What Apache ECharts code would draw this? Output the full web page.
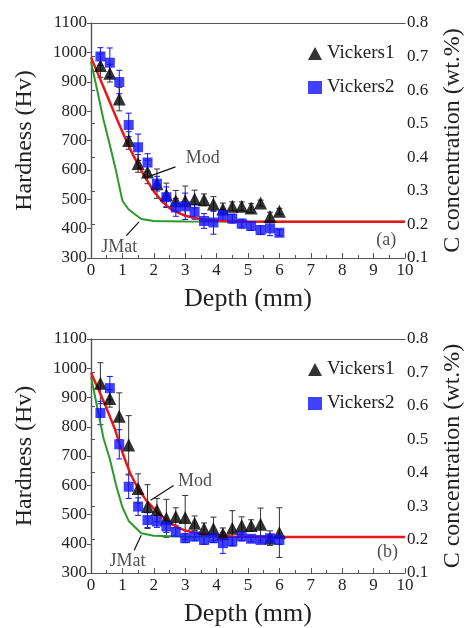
<!DOCTYPE html>
<html>
<head>
<meta charset="utf-8">
<script src="https://cdn.jsdelivr.net/npm/echarts@6/dist/echarts.min.js"></script>
<style>
  html, body { margin: 0; padding: 0; background: #fff; }
  #chart { width: 473px; height: 628px; }
</style>
</head>
<body>
<div id="chart"></div>
<script>
// measurement depths (mm)
var depth = [0.3, 0.6, 0.9, 1.2, 1.5, 1.8, 2.1, 2.4, 2.7, 3.0, 3.3, 3.6, 3.9, 4.2, 4.5, 4.8, 5.1, 5.4, 5.7, 6.0]

// panel (a)
var hvA1 = [955, 929, 841, 700, 622, 593, 553, 515, 495, 495, 501, 498, 484, 467, 476, 476, 470, 487, 441, 459]
var errA1 = [40, 30, 40, 30, 30, 40, 50, 40, 35, 50, 30, 20, 25, 20, 15, 15, 15, 10, 15, 10]
var hvA2 = [986, 965, 899, 753, 677, 625, 553, 507, 472, 476, 457, 426, 421, 446, 434, 417, 409, 395, 401, 386]
var errA2 = [30, 50, 40, 40, 45, 30, 25, 35, 30, 45, 25, 25, 40, 20, 15, 15, 15, 15, 25, 10]

// panel (b)
var hvB1 = [949, 897, 836, 738, 589, 527, 515, 487, 493, 490, 470, 451, 451, 434, 453, 462, 462, 467, 419, 438]
var errB1 = [70, 30, 80, 100, 50, 75, 40, 65, 30, 75, 25, 20, 40, 20, 60, 30, 20, 55, 25, 85]
var hvB2 = [847, 932, 740, 595, 527, 481, 476, 459, 440, 419, 425, 413, 419, 402, 408, 425, 417, 413, 419, 413]
var errB2 = [40, 40, 50, 40, 30, 25, 20, 20, 15, 15, 15, 15, 15, 35, 15, 15, 10, 10, 10, 15]

// model curves
var modDepth = [0, 0.25, 0.5, 0.75, 1.0, 1.25, 1.5, 1.75, 2.0, 2.25, 2.5, 2.75, 3.0, 3.5, 4.0, 4.5, 5.0, 6.0, 7.0, 8.0, 9.0, 10.0]
var modA = [983, 920, 856, 792, 730, 670, 618, 570, 527, 494, 470, 455, 444, 432, 427, 425, 424, 423, 423, 423, 423, 423]
var modB = [985, 925, 862, 795, 712, 640, 588, 550, 520, 495, 472, 457, 445, 433, 428, 425, 424, 423, 423, 423, 423, 423]
var jmatDepth = [0, 0.2, 0.4, 0.6, 0.8, 1.0, 1.2, 1.6, 2.0, 3.0, 10.0]
var jmatA = [968, 870, 770, 685, 595, 495, 465, 433, 426, 424, 423]
var jmatB = [972, 865, 760, 690, 600, 525, 478, 436, 427, 424, 423]

// annotation anchors in data space: [depth, Hv]
var modLabel = [[3.56, 640], [3.31, 612]]
var modArrow = [[[2.69, 610], [1.81, 576]], [[2.63, 599], [1.9, 549]]]
var jmatLabel = [[0.9, 338], [1.16, 341]]
var jmatArrow = [[[1.125, 376], [1.53, 423]], [[1.375, 378], [1.6, 429]]]
var panelTag = ['(a)', '(b)']
var tagPos = [[9.4, 362], [9.44, 372]]

var FONT = "'Times New Roman', 'Liberation Serif', 'DejaVu Serif', serif"
var AXIS = '#555'
var BLUE = '#1010ff'
var RED = '#e81818'
var GREEN = '#2a9a2a'

function zip (xs, ys) {
  return xs.map(function (x, i) { return [x, ys[i]] })
}

function errBar (name, xs, ys, es, color, xi, yi) {
  return {
    name: name,
    type: 'custom',
    xAxisIndex: xi,
    yAxisIndex: yi,
    z: 2,
    silent: true,
    renderItem: function (params, api) {
      var top = api.coord([api.value(0), api.value(2)])
      var bot = api.coord([api.value(0), api.value(1)])
      var w = 3
      var st = { stroke: color, lineWidth: 1 }
      return {
        type: 'group',
        children: [
          { type: 'line', shape: { x1: top[0], y1: top[1], x2: bot[0], y2: bot[1] }, style: st },
          { type: 'line', shape: { x1: top[0] - w, y1: top[1], x2: top[0] + w, y2: top[1] }, style: st },
          { type: 'line', shape: { x1: bot[0] - w, y1: bot[1], x2: bot[0] + w, y2: bot[1] }, style: st }
        ]
      }
    },
    encode: { x: 0, y: [1, 2] },
    data: xs.map(function (x, i) { return [x, ys[i] - es[i], ys[i] + es[i]] })
  }
}

function panelSeries (p, hv1, err1, hv2, err2, mod, jmat) {
  var xi = p * 2
  var yi = p * 2
  return [
    errBar('e1', depth, hv1, err1, '#333', xi, yi),
    errBar('e2', depth, hv2, err2, BLUE, xi, yi),
    {
      name: 'JMat', type: 'line', xAxisIndex: xi, yAxisIndex: yi, z: 3,
      showSymbol: false, lineStyle: { color: GREEN, width: 2 },
      data: zip(jmatDepth, jmat)
    },
    {
      name: 'Mod', type: 'line', xAxisIndex: xi, yAxisIndex: yi, z: 4,
      showSymbol: false, lineStyle: { color: RED, width: 2.5 },
      data: zip(modDepth, mod)
    },
    {
      name: 'Vickers1', type: 'scatter', xAxisIndex: xi, yAxisIndex: yi, z: 5,
      symbol: 'triangle', symbolSize: 13, itemStyle: { color: '#000' },
      data: zip(depth, hv1)
    },
    {
      name: 'Vickers2', type: 'scatter', xAxisIndex: xi, yAxisIndex: yi, z: 5,
      symbol: 'rect', symbolSize: 10, itemStyle: { color: BLUE },
      data: zip(depth, hv2)
    },
    // pointer lines for the curve labels
    {
      type: 'line', xAxisIndex: xi, yAxisIndex: yi, z: 6, showSymbol: false, silent: true,
      lineStyle: { color: '#111', width: 1.2 }, data: modArrow[p]
    },
    {
      type: 'line', xAxisIndex: xi, yAxisIndex: yi, z: 6, showSymbol: false, silent: true,
      lineStyle: { color: '#111', width: 1.2 }, data: jmatArrow[p]
    },
    {
      type: 'scatter', xAxisIndex: xi, yAxisIndex: yi, z: 6, symbolSize: 0, silent: true,
      label: {
        show: true, position: 'inside', color: '#222', fontFamily: FONT, fontSize: 18,
        formatter: function (d) { return d.data.t }
      },
      data: [
        { value: modLabel[p], t: 'Mod' },
        { value: jmatLabel[p], t: 'JMat' },
        { value: tagPos[p], t: panelTag[p] }
      ]
    }
  ]
}

var tickFont = { fontFamily: FONT, fontSize: 17, color: '#222' }
var nameFont = { fontFamily: FONT, fontSize: 24, color: '#222' }

function xAxes (g) {
  return [
    {
      gridIndex: g, type: 'value', min: 0, max: 10, interval: 1, position: 'bottom',
      name: 'Depth (mm)', nameLocation: 'middle', nameGap: 28,
      nameTextStyle: { fontFamily: FONT, fontSize: 26, color: '#222' },
      axisLine: { lineStyle: { color: AXIS, width: 1.2 } },
      axisTick: { inside: true, length: 5, lineStyle: { color: AXIS } },
      minorTick: { show: true, splitNumber: 2, length: 3, lineStyle: { color: AXIS } },
      axisLabel: Object.assign({ margin: 4 }, tickFont),
      splitLine: { show: false }
    },
    {
      gridIndex: g, type: 'value', min: 0, max: 10, position: 'top',
      axisLine: { lineStyle: { color: AXIS, width: 1.2 } },
      axisTick: { show: false }, axisLabel: { show: false }, splitLine: { show: false }
    }
  ]
}

function yAxes (g) {
  return [
    {
      gridIndex: g, type: 'value', min: 300, max: 1100, interval: 100, position: 'left',
      name: 'Hardness (Hv)', nameLocation: 'middle', nameGap: 54, nameRotate: 90,
      nameTextStyle: nameFont,
      axisLine: { show: true, lineStyle: { color: AXIS, width: 1.2 } },
      axisTick: { show: true, length: 4, lineStyle: { color: AXIS } },
      axisLabel: Object.assign({ margin: 4, formatter: function (v) { return String(v) } }, tickFont),
      splitLine: { show: false }
    },
    {
      gridIndex: g, type: 'value', min: 0.1, max: 0.8, interval: 0.1, position: 'right',
      name: 'C concentration (wt.%)', nameLocation: 'middle', nameGap: 36, nameRotate: 90,
      nameTextStyle: nameFont,
      axisLine: { show: true, lineStyle: { color: AXIS, width: 1.2 } },
      axisTick: { show: true, length: 4, lineStyle: { color: AXIS } },
      axisLabel: Object.assign({ margin: 2, formatter: function (v) { return v.toFixed(1) } }, tickFont),
      splitLine: { show: false }
    }
  ]
}

function legendAt (top) {
  return {
    top: top, left: 303, orient: 'vertical', itemGap: 15, itemWidth: 14, itemHeight: 13,
    textStyle: { fontFamily: FONT, fontSize: 19, color: '#222' },
    selectedMode: false,
    data: [
      { name: 'Vickers1', icon: 'triangle' },
      { name: 'Vickers2', icon: 'rect', itemStyle: { color: BLUE } }
    ]
  }
}

var myChart = echarts.init(document.getElementById('chart'))
var option = {
  backgroundColor: '#fff',
  animation: false,
  grid: [
    { left: 91, top: 23, width: 321, height: 235 },
    { left: 91, top: 339, width: 321, height: 236 }
  ],
  legend: [legendAt(39), legendAt(355)],
  xAxis: xAxes(0).concat(xAxes(1)),
  yAxis: yAxes(0).concat(yAxes(1)),
  series: panelSeries(0, hvA1, errA1, hvA2, errA2, modA, jmatA)
    .concat(panelSeries(1, hvB1, errB1, hvB2, errB2, modB, jmatB))
}
myChart.setOption(option, true)
</script>
</body>
</html>
